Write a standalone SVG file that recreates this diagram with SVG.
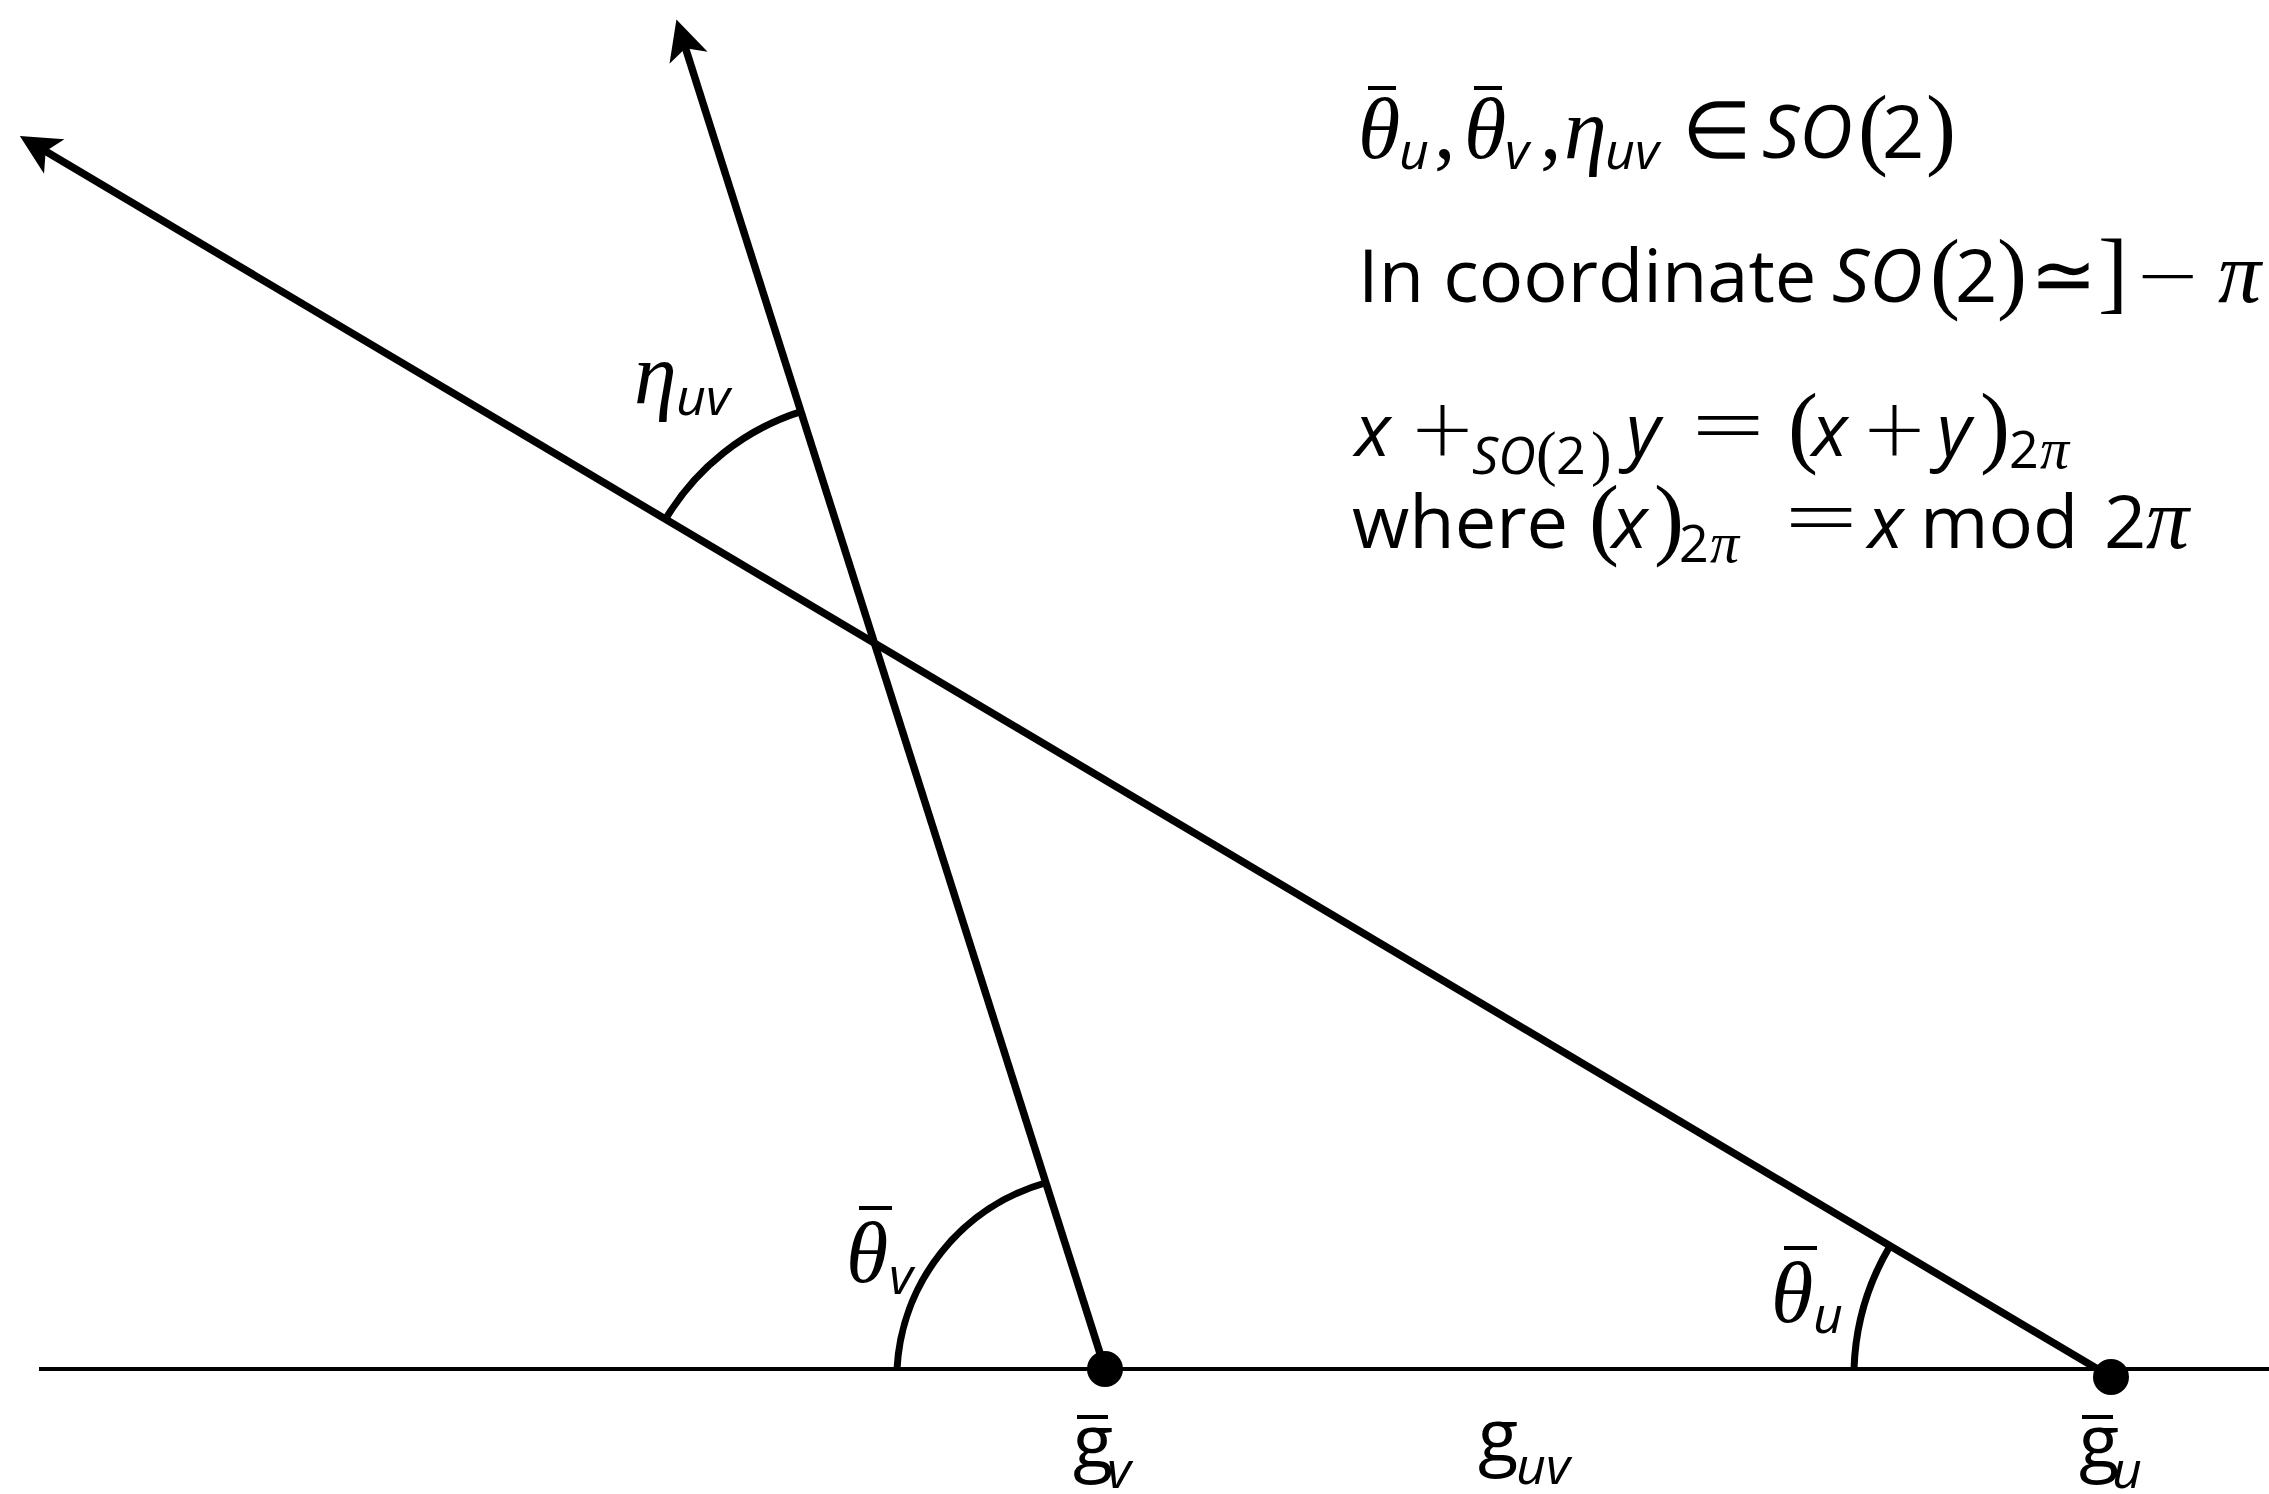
<svg xmlns="http://www.w3.org/2000/svg" width="2269" height="1494" viewBox="0 0 2269 1494">
<style>
.bg{fill:#fff}
.ln{stroke:#000;stroke-width:7.5;fill:none}
.base{stroke:#000;stroke-width:4;fill:none}
.arc{stroke:#000;stroke-width:7;fill:none}
.bar{stroke:#000;stroke-width:4}
.dot{fill:#000}
text{fill:#000}
.gk{font-family:"Liberation Serif","DejaVu Serif",serif;font-style:italic;font-size:86px}
.gks{font-family:"Liberation Serif","DejaVu Serif",serif;font-style:italic;font-size:58px}
.rm{font-family:"Liberation Serif","DejaVu Serif",serif;font-size:86px}
.op{font-family:"DejaVu Sans ExtraLight","DejaVu Sans",sans-serif;font-weight:200;font-size:80px}
.eq{font-family:"DejaVu Sans ExtraLight","DejaVu Sans",sans-serif;font-weight:200;font-size:96px}
.pr{font-family:"Liberation Serif","DejaVu Serif",serif;font-size:90px}
.prs{font-family:"Liberation Serif","DejaVu Serif",serif;font-size:62px}
.si{font-family:"Open Sans","Noto Sans",sans-serif;font-style:italic;font-weight:500;font-size:74px}
.su{font-family:"Open Sans","Noto Sans",sans-serif;font-weight:500;font-size:74px}
.sis{font-family:"Open Sans","Noto Sans",sans-serif;font-style:italic;font-weight:500;font-size:52px}
.sus{font-family:"Open Sans","Noto Sans",sans-serif;font-weight:500;font-size:52px}
</style>
<defs>
<marker id="arrow" markerUnits="userSpaceOnUse" orient="auto" refX="4" refY="0" markerWidth="80" markerHeight="80" viewBox="-30 -40 80 80" overflow="visible">
<path d="M30,0 L-10,-20 L0,0 L-10,20 Z" fill="#000"/>
</marker>
</defs>
<rect class="bg" x="0" y="0" width="2269" height="1494"/>
<g id="connectors">
<line id="baseline" class="base" x1="39" y1="1369" x2="2269" y2="1369"/>
<line id="ray-v" class="ln" x1="1105" y1="1369" x2="684.3" y2="44.4" marker-end="url(#arrow)"/>
<line id="ray-u" class="ln" x1="2111" y1="1377" x2="42.2" y2="149.3" marker-end="url(#arrow)"/>
<path id="arc-eta" class="arc" d="M665.5,519.2 A243,243 0 0 1 801,411.6"/>
<path id="arc-theta-v" class="arc" d="M897,1369 A205,205 0 0 1 1045,1183"/>
<path id="arc-theta-u" class="arc" d="M1854,1369 A257,257 0 0 1 1890,1246"/>
</g>
<g id="node-gv">
<circle class="dot" cx="1105" cy="1369" r="18"/>
<line class="bar" x1="1077" y1="1417" x2="1108" y2="1417"/>
<text><tspan class="su" x="1073" y="1467">g</tspan><tspan class="sis" x="1107" y="1488">v</tspan></text>
</g>
<g id="node-gu">
<circle class="dot" cx="2111" cy="1377" r="18"/>
<line class="bar" x1="2082" y1="1417" x2="2113" y2="1417"/>
<text><tspan class="su" x="2079" y="1467">g</tspan><tspan class="sis" x="2112" y="1488">u</tspan></text>
</g>
<g id="label-guv">
<text><tspan class="su" x="1478" y="1461">g</tspan><tspan class="sis" x="1516" y="1484">uv</tspan></text>
</g>
<g id="label-eta">
<text><tspan class="gk" x="634" y="403">η</tspan><tspan class="sis" x="676" y="415">uv</tspan></text>
</g>
<g id="label-theta-v">
<line class="bar" x1="859" y1="1208" x2="892" y2="1208"/>
<text><tspan class="gk" x="846" y="1282">θ</tspan><tspan class="sis" x="889" y="1294">v</tspan></text>
</g>
<g id="label-theta-u">
<line class="bar" x1="1784" y1="1248" x2="1817" y2="1248"/>
<text><tspan class="gk" x="1771" y="1322">θ</tspan><tspan class="sis" x="1813" y="1333">u</tspan></text>
</g>
<g id="text-block">
<line class="bar" x1="1368" y1="88" x2="1396" y2="88"/>
<line class="bar" x1="1474" y1="88" x2="1502" y2="88"/>
<text>
<tspan class="gk" x="1358" y="158">θ</tspan><tspan class="sis" x="1399" y="169">u</tspan><tspan class="rm" x="1434" y="158">,</tspan><tspan class="gk" x="1464" y="158">θ</tspan><tspan class="sis" x="1505" y="169">v</tspan><tspan class="rm" x="1540" y="158">,</tspan><tspan class="gk" x="1564" y="158">η</tspan><tspan class="sis" x="1605" y="169">uv</tspan><tspan class="op" x="1682" y="158">∈</tspan><tspan class="si" x="1762" y="158">SO</tspan><tspan class="pr" x="1858" y="158">(</tspan><tspan class="su" x="1882" y="158">2</tspan><tspan class="pr" x="1926" y="158">)</tspan>
</text>
<text>
<tspan class="su" x="1358" y="302">In coordinate</tspan><tspan class="si" x="1832" y="302">SO</tspan><tspan class="pr" x="1930" y="302">(</tspan><tspan class="su" x="1955" y="302">2</tspan><tspan class="pr" x="1997" y="302">)</tspan><tspan class="op" x="2030" y="302">≃</tspan><tspan class="pr" x="2098" y="302">]</tspan><tspan class="op" x="2134" y="302">−</tspan><tspan class="gk" x="2218" y="302">π</tspan>
</text>
<text>
<tspan class="si" x="1355" y="456">x</tspan><tspan class="op" x="1409" y="456">+</tspan><tspan class="sis" x="1472" y="474">SO</tspan><tspan class="prs" x="1536" y="474">(</tspan><tspan class="sus" x="1556" y="474">2</tspan><tspan class="prs" x="1591" y="474">)</tspan><tspan class="si" x="1626" y="456">y</tspan><tspan class="eq" x="1688" y="456">=</tspan><tspan class="pr" x="1788" y="456">(</tspan><tspan class="si" x="1812" y="456">x</tspan><tspan class="op" x="1861" y="456">+</tspan><tspan class="si" x="1937" y="456">y</tspan><tspan class="pr" x="1980" y="456">)</tspan><tspan class="sus" x="2009" y="468">2</tspan><tspan class="gks" x="2040" y="468">π</tspan>
</text>
<text>
<tspan class="su" x="1352" y="548">where</tspan><tspan class="pr" x="1589" y="548">(</tspan><tspan class="si" x="1612" y="548">x</tspan><tspan class="pr" x="1654" y="548">)</tspan><tspan class="sus" x="1679" y="562">2</tspan><tspan class="gks" x="1710" y="562">π</tspan><tspan class="eq" x="1781" y="548">=</tspan><tspan class="si" x="1868" y="548">x</tspan><tspan class="su" x="1920" y="548">mod</tspan><tspan class="su" x="2104" y="548">2</tspan><tspan class="gk" x="2146" y="548">π</tspan>
</text>
</g>
</svg>
